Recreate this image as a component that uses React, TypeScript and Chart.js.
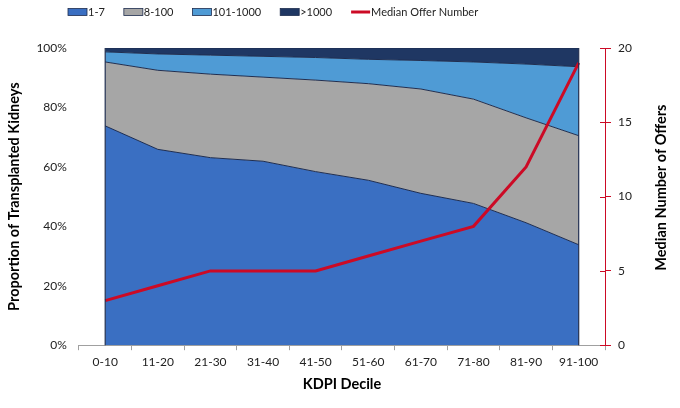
import { useEffect, useRef } from "react";
import { Chart, registerables } from "chart.js";

Chart.register(...registerables);

const FONT = "Lato, 'Open Sans', sans-serif";

export const categories = [
  "0-10",
  "11-20",
  "21-30",
  "31-40",
  "41-50",
  "51-60",
  "61-70",
  "71-80",
  "81-90",
  "91-100",
];
// share of transplanted kidneys (%) by offer number band
export const share1to7 = [73.8, 65.9, 63.1, 61.9, 58.4, 55.5, 51.1, 47.7, 41.2, 33.8];
export const share8to100 = [21.5, 26.6, 28.1, 28.3, 30.8, 32.5, 35.1, 35.1, 35.3, 36.7];
export const share101to1000 = [3.4, 5.5, 6.4, 7.0, 7.6, 8.2, 9.6, 12.5, 18.1, 23.2];
export const shareOver1000 = [1.3, 2.0, 2.4, 2.8, 3.2, 3.8, 4.2, 4.7, 5.4, 6.3];
export const medianOffers = [3, 4, 5, 5, 5, 6, 7, 8, 12, 19];

const leftTicks = [0, 20, 40, 60, 80, 100];
const rightTicks = [0, 5, 10, 15, 20];
const rightTitle = "Median Number of Offers";

const OUTLINE = "#1f2d4f";
const RED = "#cc0a25";
const TITLE_FONT = { family: FONT, size: 14.5, weight: "bold" as const };

// legend row at the top, left of centre like the original
const topLegend = {
  id: "topLegend",
  afterDraw(chart: any) {
    const ctx = chart.ctx;
    ctx.save();
    ctx.font = `11px ${FONT}`;
    ctx.textBaseline = "middle";
    let x = 68;
    const y = 12;
    chart.data.datasets.forEach((ds: any) => {
      if (ds.yAxisID === "y1") {
        ctx.strokeStyle = ds.borderColor;
        ctx.lineWidth = 3;
        ctx.beginPath();
        ctx.moveTo(x, y);
        ctx.lineTo(x + 19, y);
        ctx.stroke();
      } else {
        ctx.fillStyle = ds.backgroundColor;
        ctx.fillRect(x, y - 3.5, 19, 7);
        ctx.strokeStyle = OUTLINE;
        ctx.lineWidth = 0.8;
        ctx.strokeRect(x, y - 3.5, 19, 7);
      }
      x += 20;
      ctx.fillStyle = "#222";
      ctx.fillText(ds.label, x, y);
      x += ctx.measureText(ds.label).width + 19;
    });
    ctx.restore();
  },
};

// area end outlines, inner red ticks and the right axis title (reads upwards)
const extras = {
  id: "extras",
  afterDatasetsDraw(chart: any) {
    const { ctx, scales } = chart;
    const xs = scales.x;
    const ys = scales.y;
    ctx.save();
    ctx.strokeStyle = OUTLINE;
    ctx.lineWidth = 1.2;
    [0, categories.length - 1].forEach((i) => {
      const px = xs.getPixelForValue(i);
      ctx.beginPath();
      ctx.moveTo(px, ys.getPixelForValue(0));
      ctx.lineTo(px, ys.getPixelForValue(100));
      ctx.stroke();
    });
    const y1 = scales.y1;
    ctx.strokeStyle = RED;
    ctx.lineWidth = 1;
    rightTicks.forEach((t) => {
      const py = Math.round(y1.getPixelForValue(t)) + 0.5;
      ctx.beginPath();
      ctx.moveTo(y1.left - 5, py);
      ctx.lineTo(y1.left, py);
      ctx.stroke();
    });
    ctx.restore();
  },
  afterDraw(chart: any) {
    const { ctx, chartArea } = chart;
    ctx.save();
    ctx.translate(661, (chartArea.top + chartArea.bottom) / 2 - 9);
    ctx.rotate(-Math.PI / 2);
    ctx.font = `bold ${TITLE_FONT.size}px ${FONT}`;
    ctx.fillStyle = "#000";
    ctx.textAlign = "center";
    ctx.textBaseline = "middle";
    ctx.fillText(rightTitle, 0, 0);
    ctx.restore();
  },
};

export default function App() {
  const canvasRef = useRef<HTMLCanvasElement | null>(null);
  const chartRef = useRef<Chart | null>(null);

  useEffect(() => {
    if (!canvasRef.current) return;
    chartRef.current?.destroy();

    const area = (label: string, data: number[], color: string, fill: any) => ({
      type: "line" as const,
      label,
      data,
      backgroundColor: color,
      borderColor: OUTLINE,
      borderWidth: 1,
      pointRadius: 0,
      tension: 0,
      fill,
      yAxisID: "y",
    });

    chartRef.current = new Chart(canvasRef.current, {
      type: "line",
      data: {
        labels: categories,
        datasets: [
          area("1-7", share1to7, "#3a6fc2", "origin"),
          area("8-100", share8to100, "#a6a6a6", "-1"),
          area("101-1000", share101to1000, "#4f9bd5", "-1"),
          area(">1000", shareOver1000, "#1f3763", "-1"),
          {
            type: "line",
            label: "Median Offer Number",
            data: medianOffers,
            borderColor: RED,
            backgroundColor: RED,
            borderWidth: 3,
            pointRadius: 0,
            tension: 0,
            fill: false,
            yAxisID: "y1",
            order: -1,
          },
        ],
      },
      options: {
        animation: false,
        responsive: false,
        layout: { padding: { top: 48, left: 0, right: 0, bottom: 0 } },
        plugins: {
          legend: { display: false },
          tooltip: { enabled: false },
        },
        scales: {
          x: {
            offset: true,
            grid: {
              offset: true,
              drawOnChartArea: false,
              tickLength: 5,
              color: "#a0a0a0",
            },
            border: { color: "#a0a0a0" },
            ticks: {
              color: "#222",
              padding: 5,
              maxRotation: 0,
              font: { family: FONT, size: 12 },
            },
            title: {
              display: true,
              text: "KDPI Decile",
              color: "#000",
              font: TITLE_FONT,
              padding: { top: 1, bottom: 15 },
            },
          },
          y: {
            stacked: true,
            min: 0,
            max: 100,
            afterBuildTicks: (axis: any) => {
              axis.ticks = leftTicks.map((v) => ({ value: v }));
            },
            grid: { display: false, drawTicks: false },
            border: { display: false },
            ticks: {
              color: "#222",
              padding: 12,
              font: { family: FONT, size: 12 },
              callback: (v: any) => `${v}%`,
            },
            title: {
              display: true,
              text: "Proportion of Transplanted Kidneys",
              color: "#000",
              font: TITLE_FONT,
              padding: { top: 6, bottom: 1 },
            },
          },
          y1: {
            position: "right",
            min: 0,
            max: 20,
            afterBuildTicks: (axis: any) => {
              axis.ticks = rightTicks.map((v) => ({ value: v }));
            },
            afterFit: (axis: any) => {
              axis.width = 75;
            },
            grid: {
              drawOnChartArea: false,
              tickLength: 6,
              color: RED,
            },
            border: { color: RED },
            ticks: {
              color: "#222",
              padding: 7,
              font: { family: FONT, size: 12 },
            },
          },
        },
      },
      plugins: [topLegend, extras],
    });

    return () => {
      chartRef.current?.destroy();
      chartRef.current = null;
    };
  }, []);

  return (
    <div style={{ position: "fixed", left: 0, top: 0, width: 680, height: 408, background: "#fff" }}>
      <canvas ref={canvasRef} width={680} height={408} />
    </div>
  );
}
